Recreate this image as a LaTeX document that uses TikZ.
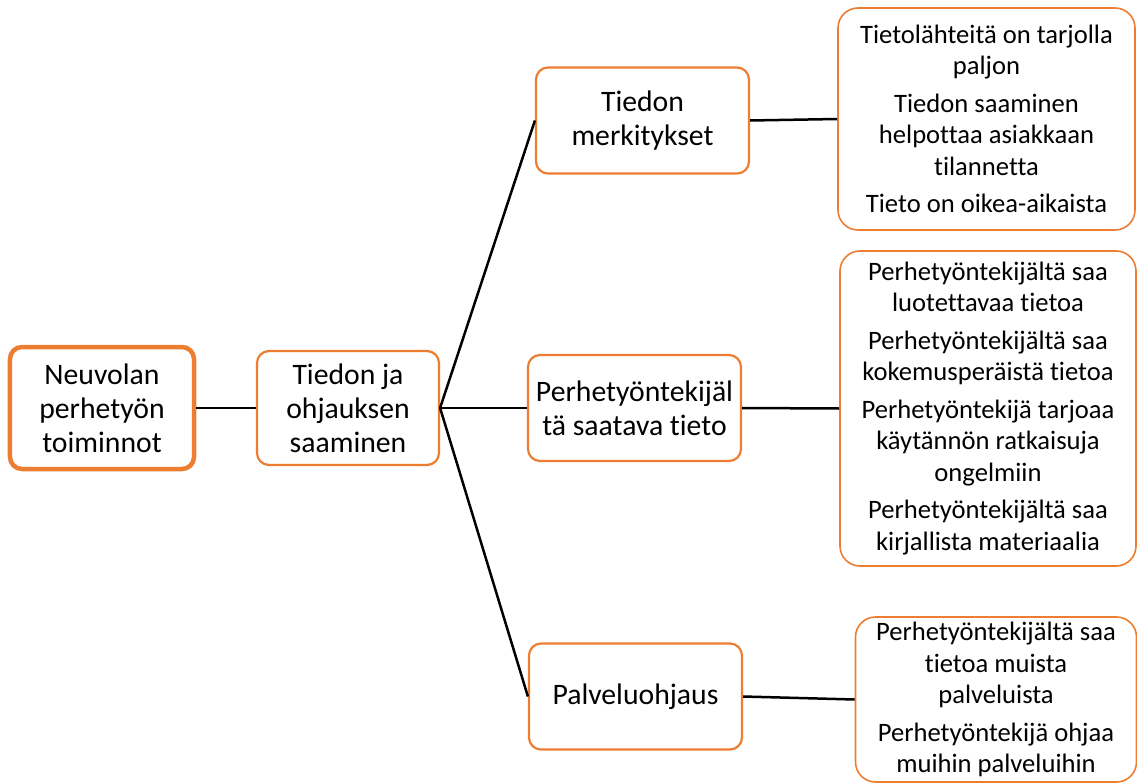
\documentclass[tikz,border=0pt]{standalone}
\usepackage{fontspec}
\setmainfont[Ligatures=NoCommon]{Carlito}
\definecolor{accent}{RGB}{237,125,49}
\begin{document}
\begin{tikzpicture}[x=1bp,y=-1bp,
  box/.style={draw=accent, fill=white, rounded corners=12bp, line width=2.2bp,
    align=center, inner sep=0pt, font=\fontsize{29.7bp}{34bp}\selectfont},
  rootbox/.style={box, line width=4.5bp, minimum width=184bp, minimum height=122bp},
  midbox/.style={box, minimum width=213bp, minimum height=106bp},
  leafbox/.style={draw=accent, fill=white, rounded corners=20bp, line width=1.6bp,
    align=center, inner sep=0pt, font=\fontsize{26.6bp}{31.5bp}\selectfont},
  link/.style={line width=2.5bp, black}]
  \useasboundingbox (0,0) rectangle (1137,783);

  % tree nodes
  \node[rootbox] (root) at (102,408) {Neuvolan\\perhetyön\\toiminnot};
  \node[box, minimum width=182bp, minimum height=114bp] (info) at (348,408)
    {Tiedon ja\\ohjauksen\\saaminen};
  \node[midbox] (mean) at (642.5,120.5) {Tiedon\\merkitykset};
  \node[midbox] (worker) at (634.5,408) {Perhetyöntekijäl\\tä saatava tieto};
  \node[midbox] (guide) at (635.5,696.5) {Palveluohjaus};

  % leaf lists
  \node[leafbox, minimum width=297bp, minimum height=222bp] (l1) at (986.5,119)
    {Tietolähteitä on tarjolla\\paljon\\[6bp]
     Tiedon saaminen\\helpottaa asiakkaan\\tilannetta\\[6bp]
     Tieto on oikea-aikaista};
  \node[leafbox, minimum width=296bp, minimum height=315bp] (l2) at (988,408.5)
    {Perhetyöntekijältä saa\\luotettavaa tietoa\\[6bp]
     Perhetyöntekijältä saa\\kokemusperäistä tietoa\\[6bp]
     Perhetyöntekijä tarjoaa\\käytännön ratkaisuja\\ongelmiin\\[6bp]
     Perhetyöntekijältä saa\\kirjallista materiaalia};
  \node[leafbox, minimum width=281bp, minimum height=165bp] (l3) at (996,699.5)
    {Perhetyöntekijältä saa\\tietoa muista\\palveluista\\[6bp]
     Perhetyöntekijä ohjaa\\muihin palveluihin};

  % connectors
  \draw[link] (root.east) -- (info.west);
  \draw[link] (info.east) -- (mean.west);
  \draw[link] (info.east) -- (worker.west);
  \draw[link] (info.east) -- (guide.west);
  \draw[link] (mean.east) -- (l1.west);
  \draw[link] (worker.east) -- (l2.west);
  \draw[link] (guide.east) -- (l3.west);
\end{tikzpicture}
\end{document}
